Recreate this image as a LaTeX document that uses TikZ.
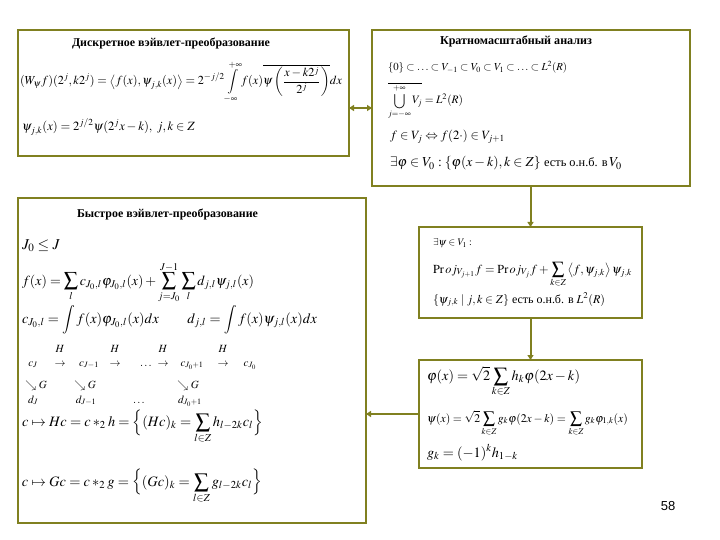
\documentclass[tikz,border=0pt]{standalone}
\usepackage{amsmath}
\usepackage{mathptmx}
\usepackage[no-math]{fontspec}
\setmainfont{Liberation Serif}
\newfontfamily\pgnum{Liberation Sans}
\usepackage{graphicx}
\usetikzlibrary{arrows.meta}
\definecolor{olivec}{RGB}{128,128,32}
\newcommand{\fw}[2]{\resizebox{#1pt}{!}{$\displaystyle #2$}}
\newcommand{\tw}[2]{\resizebox{#1pt}{!}{\bfseries #2}}
\begin{document}
\begin{tikzpicture}[x=1pt,y=-1pt,
  box/.style={draw=olivec, line width=2pt, fill=white, inner sep=0pt, outer sep=0pt, anchor=north west},
  conn/.style={draw=olivec, line width=2pt, -{Triangle[length=5pt,width=6pt]}},
  fm/.style={anchor=base west, inner sep=0pt, outer sep=0pt},
  dg/.style={anchor=base, inner sep=0pt, outer sep=0pt, font=\fontsize{11}{13}\selectfont}]
\useasboundingbox[fill=white] (0,0) rectangle (720,540);
% boxes
\node[box, minimum width=331pt, minimum height=126pt] (b1) at (18,30) {};
\node[box, minimum width=318pt, minimum height=156pt] (b2) at (372,30) {};
\node[box, minimum width=348pt, minimum height=325pt] (b3) at (18,198) {};
\node[box, minimum width=223pt, minimum height=91pt] (b4) at (419,227) {};
\node[box, minimum width=223pt, minimum height=108pt] (b5) at (419,360) {};
% connectors
\coordinate (yd) at (0,108);
\draw[conn, {Triangle[length=5pt,width=6pt]}-{Triangle[length=5pt,width=6pt]}] (b1.east |- yd) -- (b2.west |- yd);
\draw[conn] (b4.north |- b2.south) -- (b4.north);
\draw[conn] (b5.north |- b4.south) -- (b5.north);
\draw[conn] (b5.west) -- (b5.west -| b3.east);
% box 1
\node[fm] (t1) at (72,47) {\tw{198}{Дискретное вэйвлет-преобразование}};
\node[fm] (f1) at (20,85) {\fw{322}{(W_\psi f)(2^j,k2^j)=\left\langle f(x),\psi_{j,k}(x)\right\rangle=2^{-j/2}\int\limits_{-\infty}^{+\infty}f(x)\overline{\psi\left(\frac{x-k2^j}{2^j}\right)}dx}};
\node[fm] (f2) at (22,131) {\fw{173}{\psi_{j,k}(x)=2^{j/2}\psi(2^jx-k),\ j,k\in Z}};
% box 2
\node[fm] (t2) at (440,45) {\tw{152}{Кратномасштабный анализ}};
\node[fm] (g1) at (388,71) {\fw{179}{\{0\}\subset\ldots\subset V_{-1}\subset V_0\subset V_1\subset\ldots\subset L^2(R)}};
\node[fm] (g2) at (388,104) {\fw{75}{\overline{\bigcup_{j=-\infty}^{+\infty}V_j}=L^2(R)}};
\node[fm] (g3) at (390,140) {\fw{115}{f\in V_j\Leftrightarrow f(2\cdot)\in V_{j+1}}};
\node[fm] (g4) at (390,167) {\fw{232}{\exists\varphi\in V_0:\{\varphi(x-k),k\in Z\}\ \text{\small есть о.н.б. в}\,V_0}};
% box 3
\node[fm] (t3) at (77,218) {\tw{181}{Быстрое вэйвлет-преобразование}};
\node[fm, font=\fontsize{15}{17}\selectfont] (h1) at (22,249) {$J_0\le J$};
\node[fm] (h2) at (22,285) {\fw{232}{f(x)=\sum_l c_{J_0,l}\varphi_{J_0,l}(x)+\sum_{j=J_0}^{J-1}\sum_l d_{j,l}\psi_{j,l}(x)}};
\node[fm] (h3) at (22,323) {\fw{295}{c_{J_0,l}=\int f(x)\varphi_{J_0,l}(x)dx\qquad d_{j,l}=\int f(x)\psi_{j,l}(x)dx}};
% Mallat diagram
\node[dg] (hA) at (60,352) {$H$};
\node[dg] (hB) at (115,352) {$H$};
\node[dg] (hC) at (163,352) {$H$};
\node[dg] (hD) at (223,352) {$H$};
\node[dg] (c1) at (33,366) {$c_J$};
\node[dg] (r1) at (60,366) {$\rightarrow$};
\node[dg] (c2) at (89,366) {$c_{J-1}$};
\node[dg] (r2) at (115,366) {$\rightarrow$};
\node[dg] (c3) at (146,366) {$\ldots$};
\node[dg] (r3) at (163,366) {$\rightarrow$};
\node[dg] (c4) at (192,366) {$c_{J_0+1}$};
\node[dg] (r4) at (223,366) {$\rightarrow$};
\node[dg] (c5) at (250,366) {$c_{J_0}$};
\node[dg] (gA) at (36,388) {$\searrow G$};
\node[dg] (gB) at (85,388) {$\searrow G$};
\node[dg] (gC) at (188,388) {$\searrow G$};
\node[dg] (d1) at (33,403) {$d_J$};
\node[dg] (d2) at (86,403) {$d_{J-1}$};
\node[dg] (d3) at (139,403) {$\ldots$};
\node[dg] (d4) at (190,403) {$d_{J_0+1}$};
\node[fm] (h4) at (22,426) {\fw{241}{c\mapsto Hc=c*_2h=\Big\{(Hc)_k=\sum_{l\in Z}h_{l-2k}c_l\Big\}}};
\node[fm] (h5) at (22,486) {\fw{240}{c\mapsto Gc=c*_2g=\Big\{(Gc)_k=\sum_{l\in Z}g_{l-2k}c_l\Big\}}};
% box 4
\node[fm] (k1) at (433,246) {\fw{39}{\exists\psi\in V_1:}};
\node[fm] (k2) at (433,273) {\fw{199}{\mathrm{Pr}\,oj_{V_{j+1}}f=\mathrm{Pr}\,oj_{V_j}f+\sum_{k\in Z}\left\langle f,\psi_{j,k}\right\rangle\psi_{j,k}}};
\node[fm] (k3) at (433,303) {\fw{172}{\{\psi_{j,k}\mid j,k\in Z\}\ \text{есть о.н.б. в}\ L^2(R)}};
% box 5
\node[fm] (m1) at (427,380) {\fw{153}{\varphi(x)=\sqrt2\sum_{k\in Z}h_k\varphi(2x-k)}};
\node[fm] (m2) at (427,422) {\fw{201}{\psi(x)=\sqrt2\sum_{k\in Z}g_k\varphi(2x-k)=\sum_{k\in Z}g_k\varphi_{1,k}(x)}};
\node[fm] (m3) at (427,457) {\fw{91}{g_k=(-1)^kh_{1-k}}};
% page number
\node[anchor=base, inner sep=0pt, font=\pgnum\fontsize{13}{15}\selectfont] (pg) at (668,510) {58};
\end{tikzpicture}
\end{document}
